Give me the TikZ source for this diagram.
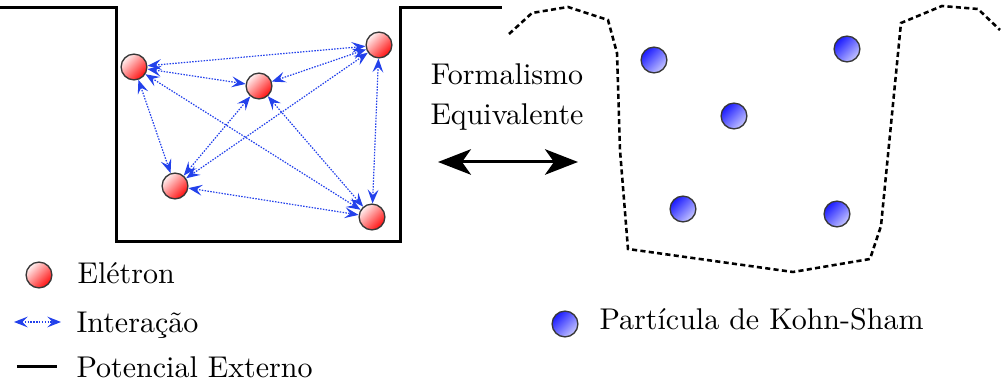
\documentclass[tikz,border=0pt]{standalone}
\usetikzlibrary{arrows.meta}
\definecolor{intblue}{RGB}{35,65,235}
\definecolor{balledge}{RGB}{55,55,55}
\tikzset{
  electron/.style={circle,draw=balledge,line width=0.45pt,minimum size=8.6pt,inner sep=0pt,
    top color=red!5,bottom color=red!95,shading angle=45},
  ksparticle/.style={circle,draw=balledge,line width=0.45pt,minimum size=8.6pt,inner sep=0pt,
    top color=blue!90,bottom color=blue!22,shading angle=45},
  interact/.style={intblue,line width=0.4pt,dash pattern=on 0.5pt off 0.45pt,
    {Stealth[length=4.6pt,width=3.6pt,inset=1.8pt]}-{Stealth[length=4.6pt,width=3.6pt,inset=1.8pt]}},
  potential/.style={line width=1pt,black},
  ksline/.style={line width=0.85pt,black,dash pattern=on 1.7pt off 1.1pt},
  bigarrow/.style={line width=1pt,{Stealth[length=11pt,width=8.5pt,inset=3pt]}-{Stealth[length=11pt,width=8.5pt,inset=3pt]}},
  lbl/.style={anchor=base west,inner sep=0pt,font=\normalsize}
}
\begin{document}
\begin{tikzpicture}[x=0.33333pt,y=-0.33333pt]
\useasboundingbox (0,0) rectangle (1001,385);
% external potential well
\coordinate (w1) at (0,8);
\coordinate (w2) at (117,8);
\coordinate (w3) at (117,242);
\coordinate (w4) at (401,242);
\coordinate (w5) at (401,8);
\coordinate (w6) at (502,8);
\draw[potential] (w1) -- (w2) -- (w3) -- (w4) -- (w5) -- (w6);
% electrons
\node[electron] (A) at (134,67) {};
\node[electron] (B) at (259,86) {};
\node[electron] (C) at (379,45) {};
\node[electron] (D) at (175,186) {};
\node[electron] (E) at (372,217) {};
\foreach \p/\q in {A/C,A/B,B/C,A/D,A/E,B/D,B/E,C/D,C/E,D/E}
  \draw[interact] (\p) -- (\q);
% text and big arrow
\node[anchor=base,inner sep=0pt] (f1) at (507,85) {Formalismo};
\node[anchor=base,inner sep=0pt] (f2) at (507,125) {Equivalente};
\coordinate (ba) at (438,162);
\coordinate (bb) at (578,162);
\draw[bigarrow] (ba) -- (bb);
% Kohn-Sham potential
\draw[ksline] (509,34) -- (532,13) -- (568,7) -- (608,20) -- (617,53) -- (620,150)
  -- (628,249) -- (793,272) -- (870,259) -- (881,226) -- (901,23) -- (942,6)
  -- (978,9) -- (1000,30);
\node[ksparticle] (P1) at (654,60) {};
\node[ksparticle] (P2) at (847,49) {};
\node[ksparticle] (P3) at (734,116) {};
\node[ksparticle] (P4) at (683,209) {};
\node[ksparticle] (P5) at (837,214) {};
% legend
\node[electron] (le) at (39,275) {};
\node[lbl] (lt1) at (77,284) {Elétron};
\coordinate (li1) at (14,322);
\coordinate (li2) at (61,322);
\draw[interact] (li1) -- (li2);
\node[lbl] (lt2) at (76,333) {Interação};
\coordinate (lp1) at (17,367);
\coordinate (lp2) at (57,367);
\draw[potential] (lp1) -- (lp2);
\node[lbl] (lt3) at (76,378) {Potencial Externo};
\node[ksparticle] (lk) at (565,324) {};
\node[lbl] (lt4) at (599,330) {Partícula de Kohn-Sham};
\end{tikzpicture}
\end{document}
